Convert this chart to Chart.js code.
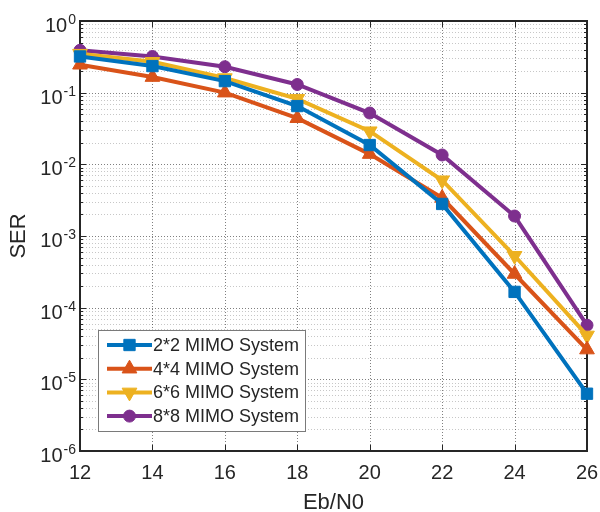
<!DOCTYPE html>
<html>
<head>
<meta charset="utf-8">
<script src="https://cdn.jsdelivr.net/npm/chart.js@4/dist/chart.umd.min.js"></script>
<style>
  html, body { margin: 0; padding: 0; background: #fff; }
  #wrap { width: 600px; height: 512px; position: relative; }
</style>
</head>
<body>
<div id="wrap"><canvas id="grafica"></canvas></div>
<script>
// datos
const ebn0 = [12, 14, 16, 18, 20, 22, 24, 26];
const ser2x2 = [0.32, 0.235, 0.145, 0.065, 0.0186, 0.0028, 1.66e-4, 6.3e-6];
const ser4x4 = [0.245, 0.165, 0.1, 0.044, 0.0139, 0.0034, 2.95e-4, 2.6e-5];
const ser6x6 = [0.35, 0.27, 0.16, 0.082, 0.029, 0.006, 5.3e-4, 4.1e-5];
const ser8x8 = [0.39, 0.32, 0.23, 0.13, 0.052, 0.0135, 0.0019, 5.7e-5];

const etiquetas = ["2*2 MIMO System", "4*4 MIMO System", "6*6 MIMO System", "8*8 MIMO System"];
const xTicks = [12, 14, 16, 18, 20, 22, 24, 26];
const yExps = [-6, -5, -4, -3, -2, -1, 0];

const colores = ["#0072BD", "#D95319", "#EDB120", "#7E2F8E"];
const marcadores = [
  { style: "rect", r: 8, rot: 0 },
  { style: "triangle", r: 8.5, rot: 0 },
  { style: "triangle", r: 8.5, rot: 180 },
  { style: "circle", r: 6, rot: 0 }
];

const FUENTE = '"Liberation Sans", Arial, Helvetica, sans-serif';
const EJE = "#262626";

function serie(vals, i) {
  const m = marcadores[i];
  return {
    label: etiquetas[i],
    data: ebn0.map((x, k) => ({ x: x, y: vals[k] })),
    borderColor: colores[i],
    backgroundColor: colores[i],
    borderWidth: 4,
    pointStyle: m.style,
    pointRadius: m.r,
    pointRotation: m.rot,
    pointBorderWidth: 1,
    pointBackgroundColor: colores[i],
    pointBorderColor: colores[i],
    tension: 0,
    clip: false
  };
}

// marcador del cuadro de leyenda
function dibujarMarcador(ctx, i, x, y) {
  const m = marcadores[i];
  ctx.save();
  ctx.fillStyle = colores[i];
  ctx.strokeStyle = colores[i];
  ctx.lineWidth = 1;
  ctx.beginPath();
  if (m.style === "rect") {
    const s = Math.SQRT1_2 * m.r;
    ctx.rect(x - s, y - s, 2 * s, 2 * s);
  } else if (m.style === "triangle") {
    let rad = m.rot * Math.PI / 180;
    ctx.moveTo(x + Math.sin(rad) * m.r, y - Math.cos(rad) * m.r);
    rad += 2 * Math.PI / 3;
    ctx.lineTo(x + Math.sin(rad) * m.r, y - Math.cos(rad) * m.r);
    rad += 2 * Math.PI / 3;
    ctx.lineTo(x + Math.sin(rad) * m.r, y - Math.cos(rad) * m.r);
    ctx.closePath();
  } else {
    ctx.arc(x, y, m.r, 0, Math.PI * 2);
  }
  ctx.fill();
  ctx.stroke();
  ctx.restore();
}

// rejilla, caja y marcas estilo MATLAB
const ejesMatlab = {
  id: "ejesMatlab",
  beforeDatasetsDraw(chart) {
    const { ctx, chartArea: a, scales } = chart;
    const sx = scales.x, sy = scales.y;
    ctx.save();
    ctx.lineWidth = 1;

    // rejilla menor (2..9 de cada decada)
    ctx.strokeStyle = "rgba(0,0,0,0.22)";
    ctx.setLineDash([1, 2]);
    for (let e = -6; e < 0; e++) {
      for (let k = 2; k <= 9; k++) {
        const y = Math.round(sy.getPixelForValue(k * Math.pow(10, e))) + 0.5;
        ctx.beginPath(); ctx.moveTo(a.left, y); ctx.lineTo(a.right, y); ctx.stroke();
      }
    }
    // rejilla mayor
    ctx.strokeStyle = "rgba(0,0,0,0.5)";
    yExps.forEach(e => {
      const y = Math.round(sy.getPixelForValue(Math.pow(10, e))) + 0.5;
      ctx.beginPath(); ctx.moveTo(a.left, y); ctx.lineTo(a.right, y); ctx.stroke();
    });
    xTicks.forEach(v => {
      const x = Math.round(sx.getPixelForValue(v)) + 0.5;
      ctx.beginPath(); ctx.moveTo(x, a.top); ctx.lineTo(x, a.bottom); ctx.stroke();
    });
    ctx.setLineDash([]);

    // marcas hacia dentro
    ctx.strokeStyle = EJE;
    ctx.lineWidth = 1;
    for (let e = -6; e <= 0; e++) {
      for (let k = 1; k <= 9; k++) {
        if (e === 0 && k > 1) break;
        const y = Math.round(sy.getPixelForValue(k * Math.pow(10, e))) + 0.5;
        const len = k === 1 ? 6 : 3;
        ctx.beginPath();
        ctx.moveTo(a.left, y); ctx.lineTo(a.left + len, y);
        ctx.moveTo(a.right, y); ctx.lineTo(a.right - len, y);
        ctx.stroke();
      }
    }
    xTicks.forEach(v => {
      const x = Math.round(sx.getPixelForValue(v)) + 0.5;
      ctx.beginPath();
      ctx.moveTo(x, a.bottom); ctx.lineTo(x, a.bottom - 6);
      ctx.moveTo(x, a.top); ctx.lineTo(x, a.top + 6);
      ctx.stroke();
    });

    // caja
    ctx.lineWidth = 2;
    ctx.strokeRect(a.left, a.top, a.right - a.left, a.bottom - a.top);

    // etiquetas eje y: 10 con exponente
    ctx.fillStyle = EJE;
    ctx.textBaseline = "alphabetic";
    yExps.forEach(e => {
      const y = sy.getPixelForValue(Math.pow(10, e));
      const exp = String(e);
      ctx.font = "14px " + FUENTE;
      const wE = ctx.measureText(exp).width;
      ctx.font = "20px " + FUENTE;
      const wB = ctx.measureText("10").width;
      const xDer = a.left - 4;
      ctx.textAlign = "left";
      ctx.fillText("10", xDer - wE - wB - 1, y + 11);
      ctx.font = "14px " + FUENTE;
      ctx.fillText(exp, xDer - wE, y + 3);
    });

    // etiquetas eje x
    ctx.font = "20px " + FUENTE;
    ctx.textAlign = "center";
    xTicks.forEach(v => {
      ctx.fillText(String(v), sx.getPixelForValue(v), a.bottom + 28);
    });

    // titulos
    ctx.font = "22px " + FUENTE;
    ctx.fillText("Eb/N0", (a.left + a.right) / 2, 509);
    ctx.save();
    ctx.translate(25, (a.top + a.bottom) / 2);
    ctx.rotate(-Math.PI / 2);
    ctx.fillText("SER", 0, 0);
    ctx.restore();

    ctx.restore();
  },
  afterDraw(chart) {
    const ctx = chart.ctx;
    ctx.save();
    // cuadro de leyenda
    ctx.fillStyle = "#fff";
    ctx.fillRect(98, 330, 207, 101);
    ctx.strokeStyle = "#7a7a7a";
    ctx.lineWidth = 1;
    ctx.strokeRect(98.5, 330.5, 207, 101);
    ctx.font = "18px " + FUENTE;
    ctx.textBaseline = "middle";
    ctx.textAlign = "left";
    etiquetas.forEach((t, i) => {
      const y = 345 + i * 23.7;
      ctx.strokeStyle = colores[i];
      ctx.lineWidth = 4;
      ctx.beginPath(); ctx.moveTo(107, y); ctx.lineTo(152, y); ctx.stroke();
      dibujarMarcador(ctx, i, 129.5, y);
      ctx.fillStyle = EJE;
      ctx.fillText(t, 153, y + 1);
    });
    ctx.restore();
  }
};

new Chart(document.getElementById("grafica"), {
  type: "line",
  data: {
    datasets: [serie(ser2x2, 0), serie(ser4x4, 1), serie(ser6x6, 2), serie(ser8x8, 3)]
  },
  options: {
    responsive: true,
    maintainAspectRatio: false,
    animation: false,
    layout: { padding: { left: 80, right: 13, top: 21, bottom: 61 } },
    plugins: { legend: { display: false }, tooltip: { enabled: false } },
    scales: {
      x: { type: "linear", min: 12, max: 26, display: false },
      y: { type: "logarithmic", min: 1e-6, max: 1, display: false }
    }
  },
  plugins: [ejesMatlab]
});
</script>
</body>
</html>
